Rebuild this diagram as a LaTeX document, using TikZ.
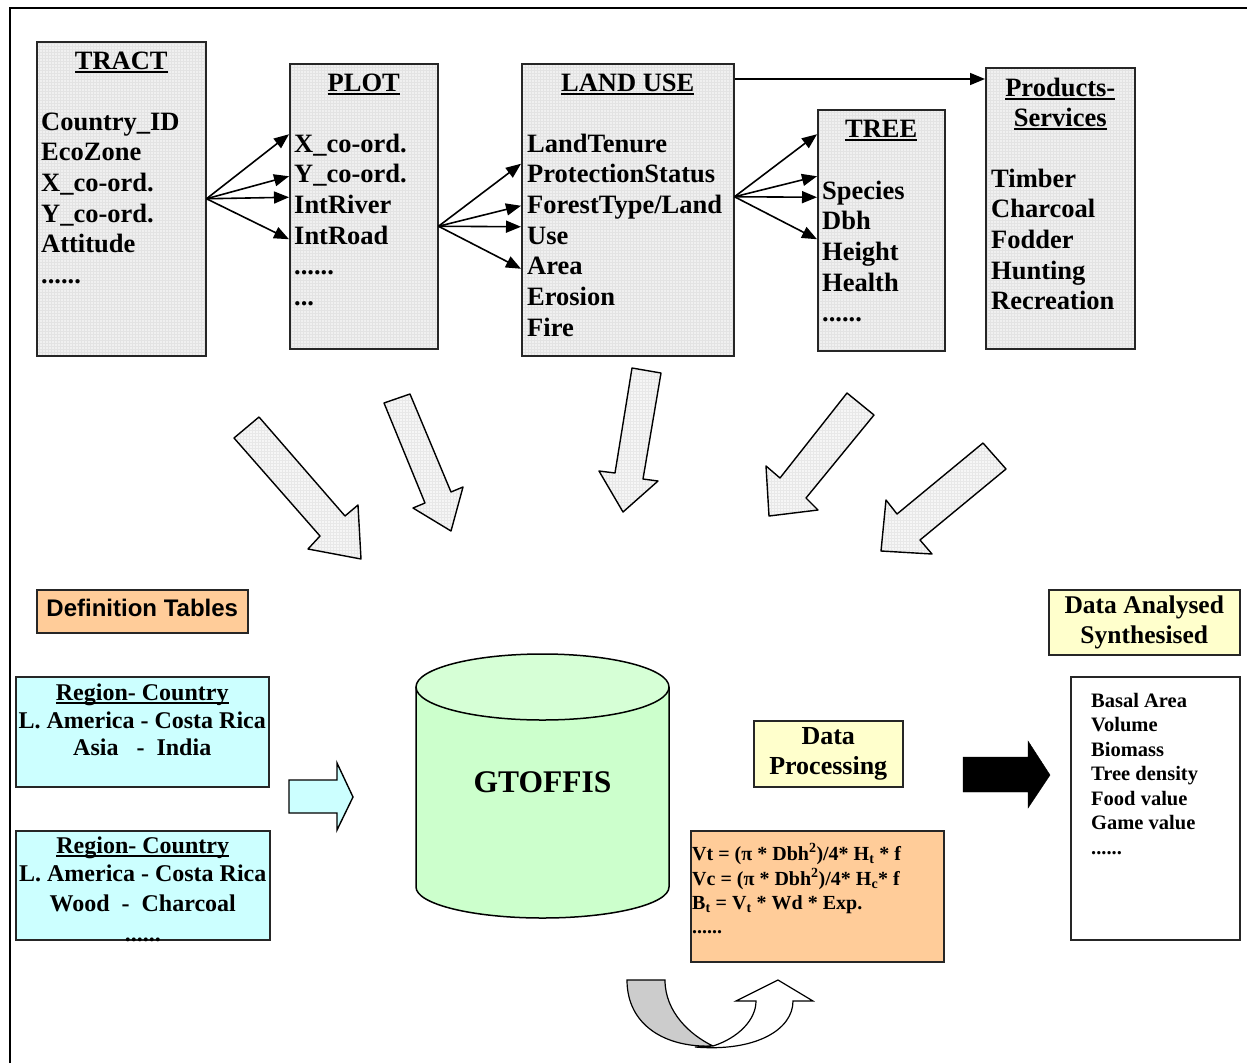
\documentclass[tikz,border=0pt]{standalone}
\usepackage{fontspec}
\setmainfont{Liberation Serif}
\newfontfamily\arialfont{Liberation Sans}
\usetikzlibrary{arrows.meta,calc,patterns,positioning}
\definecolor{peach}{HTML}{FFCC99}
\definecolor{aqua}{HTML}{CCFFFF}
\definecolor{cream}{HTML}{FFFFCC}
\definecolor{mint}{HTML}{CCFFCC}
\newcommand\hdr[1]{\setbox0\hbox{#1}\rlap{\rule[-4pt]{\wd0}{2pt}}\box0}
\newcommand\dotrow{......}
\begin{document}
\begin{tikzpicture}[x=1pt,y=-1pt,
	tbl/.style={draw=black!85,line width=1.5pt,preaction={fill=gray!12},pattern=grid,pattern color=gray!22,anchor=north west,inner sep=0},
	ttl/.style={font=\bfseries\fontsize{26.5}{30}\selectfont,anchor=base,inner sep=0},
	item/.style={font=\bfseries\fontsize{26.5}{30}\selectfont,anchor=base west,inner sep=0},
	arr/.style={line width=1.6pt,-{Triangle[length=15pt,width=12pt]}},
	bigarr/.style={draw,line width=1.4pt,line join=round,preaction={fill=gray!7},pattern=grid,pattern color=gray!18},
	flat/.style={draw=black!85,line width=1.5pt,anchor=north west,inner sep=0},
	mid/.style={font=\bfseries\fontsize{24}{28}\selectfont,anchor=base,inner sep=0},
	small/.style={font=\bfseries\fontsize{20}{24}\selectfont,anchor=base west,inner sep=0}]
	\useasboundingbox (0,0) rectangle (1247,1063);
	\draw[line width=1.6pt] (10,1063) -- (10,8) -- (1247,8);
	\node[tbl,minimum width=169pt,minimum height=314pt] (tract) at (36,41) {};
	\node[tbl,minimum width=148pt,minimum height=285pt] (plot) at (289,63) {};
	\node[tbl,minimum width=212pt,minimum height=292pt] (landuse) at (521,63) {};
	\node[tbl,minimum width=127pt,minimum height=241pt] (tree) at (817,109) {};
	\node[tbl,minimum width=149pt,minimum height=281pt] (prod) at (985,67) {};
	\node[ttl] (tract-t) at ($(tract.north)+(0,28)$) {\hdr{TRACT}};
	\node[ttl] (plot-t) at ($(plot.north)+(0,28)$) {\hdr{PLOT}};
	\node[ttl] (landuse-t) at ($(landuse.north)+(0,28)$) {\hdr{LAND USE}};
	\node[ttl] (tree-t) at ($(tree.north)+(0,28)$) {\hdr{TREE}};
	\node[ttl] (prod-t) at ($(prod.north)+(0,29)$) {\hdr{Products-}};
	\node[ttl] (prod-u) at ($(prod.north)+(0,59)$) {\hdr{Services}};
	\foreach \t [count=\i from 0] in {Country\_ID,EcoZone,X\_co-ord.,Y\_co-ord.,Attitude,\dotrow}
		\node[item] (tract-\i) at ($(tract.north west)+(5,89+30.7*\i)$) {\t};
	\foreach \t [count=\i from 0] in {X\_co-ord.,Y\_co-ord.,IntRiver,IntRoad,\dotrow,{.{}.{}.}}
		\node[item] (plot-\i) at ($(plot.north west)+(5,89+30.7*\i)$) {\t};
	\foreach \t [count=\i from 0] in {LandTenure,ProtectionStatus,ForestType/Land,Use,Area,Erosion,Fire}
		\node[item] (landuse-\i) at ($(landuse.north west)+(6,89+30.7*\i)$) {\t};
	\foreach \t [count=\i from 0] in {Species,Dbh,Height,Health,\dotrow}
		\node[item] (tree-\i) at ($(tree.north west)+(5,90+30.7*\i)$) {\t};
	\foreach \t [count=\i from 0] in {Timber,Charcoal,Fodder,Hunting,Recreation}
		\node[item] (prod-\i) at ($(prod.north west)+(6,120+30.7*\i)$) {\t};
	\foreach \s in {72,30,9,-33} \draw[arr] (tract.east) -- ([yshift=\s pt]plot.west);
	\foreach \s in {46,4,-17,-59} \draw[arr] ([yshift=-20pt]plot.east) -- ([yshift=\s pt]landuse.west);
	\foreach \s in {96,54,33,-9} \draw[arr] ([yshift=13pt]landuse.east) -- ([yshift=\s pt]tree.west);
	\draw[arr] ([yshift=-16pt]landuse.north east) -- ([yshift=-12pt]prod.north west);
	\draw[bigarr] (234,438)--(259,417)--(345,516)--(358,505)--(361,559)--(308,549)--(320,536)--cycle;
	\draw[bigarr] (384,403)--(410,394)--(451,492)--(463,487)--(451,531)--(413,508)--(425,503)--cycle;
	\draw[bigarr] (632,368)--(661,373)--(643,479)--(658,481)--(623,512)--(599,471)--(615,473)--cycle;
	\draw[bigarr] (847,393)--(874,415)--(806,498)--(818,510)--(769,516)--(766,466)--(780,478)--cycle;
	\draw[bigarr] (983,443)--(1006,469)--(920,540)--(932,554)--(881,551)--(886,500)--(897,514)--cycle;
	\node[flat,fill=peach,minimum width=211pt,minimum height=43pt] (deft) at (36,589) {};
	\node[font=\arialfont\bfseries\fontsize{24}{28}\selectfont,anchor=base,inner sep=0] (deft-t) at ($(deft.north)+(0,27)$) {Definition Tables};
	\node[flat,fill=aqua,minimum width=253pt,minimum height=110pt] (reg1) at (15,676) {};
	\node[flat,fill=aqua,minimum width=254pt,minimum height=109pt] (reg2) at (15,830) {};
	\node[mid] (reg1-0) at ($(reg1.north)+(0,24)$) {\hdr{Region- Country}};
	\node[mid] (reg1-1) at ($(reg1.north)+(0,52)$) {L. America - Costa Rica};
	\node[mid] (reg1-2) at ($(reg1.north)+(0,79)$) {Asia~~~-~~India};
	\node[mid] (reg2-0) at ($(reg2.north)+(0,23)$) {\hdr{Region- Country}};
	\node[mid] (reg2-1) at ($(reg2.north)+(0,51)$) {L. America - Costa Rica};
	\node[mid] (reg2-2) at ($(reg2.north)+(0,81)$) {Wood~~-~~Charcoal};
	\node[mid] (reg2-3) at ($(reg2.north)+(0,111)$) {\dotrow};
	\draw[line width=1.4pt,fill=aqua] (289,780)--(337,780)--(337,763)--(353,797)--(337,830)--(337,813)--(289,813)--cycle;
	\draw[line width=1.5pt,fill=mint] (416,687) -- (416,887) arc[start angle=180,end angle=0,x radius=126.5,y radius=31] -- (669,687);
	\draw[line width=1.5pt,fill=mint!80!white] (542.5,687) ellipse[x radius=126.5,y radius=33];
	\node[font=\bfseries\fontsize{31.5}{36}\selectfont] (db) at (542.5,782) {GTOFFIS};
	\node[flat,fill=cream,minimum width=149pt,minimum height=66pt,align=center,font=\bfseries\fontsize{26}{30}\selectfont] (proc) at (753,720) {Data\\Processing};
	\node[flat,fill=peach,minimum width=253pt,minimum height=131pt] (fml) at (690,830) {};
	\node[small] (fml-0) at ($(fml.north west)+(2,30)$) {Vt = (π * Dbh\textsuperscript{2})/4* H\textsubscript{t} * f};
	\node[small] (fml-1) at ($(fml.north west)+(2,55)$) {Vc = (π * Dbh\textsuperscript{2})/4* H\textsubscript{c}* f};
	\node[small] (fml-2) at ($(fml.north west)+(2,79)$) {B\textsubscript{t} = V\textsubscript{t} * Wd * Exp.};
	\node[small] (fml-3) at ($(fml.north west)+(2,103)$) {\dotrow};
	\draw[fill=black] (963,757)--(1028,757)--(1028,741)--(1050,775)--(1028,808)--(1028,792)--(963,792)--cycle;
	\node[flat,fill=cream,minimum width=191pt,minimum height=65pt,align=center,font=\bfseries\fontsize{25.5}{30}\selectfont] (ana) at (1048,589) {Data Analysed\\Synthesised};
	\node[flat,fill=white,minimum width=169pt,minimum height=263pt] (res) at (1070,676) {};
	\foreach \t [count=\i from 0] in {Basal Area,Volume,Biomass,Tree density,Food value,Game value,\dotrow}
		\node[small,font=\bfseries\fontsize{20.5}{24}\selectfont] (res-\i) at ($(res.north west)+(21,31+24.5*\i)$) {\t};
	\draw[line width=1.2pt,fill=gray!40] (627,980) .. controls (627,1025) and (665,1048) .. (713,1046) .. controls (690,1035) and (665,1012) .. (665,980) -- cycle;
	\draw[line width=1.2pt,fill=white] (695,1047) .. controls (755,1052) and (793,1030) .. (793,1001) -- (813,1001) -- (778,980) -- (736,1001) -- (756,1001) .. controls (756,1020) and (738,1038) .. (713,1046) -- cycle;
\end{tikzpicture}
\end{document}
